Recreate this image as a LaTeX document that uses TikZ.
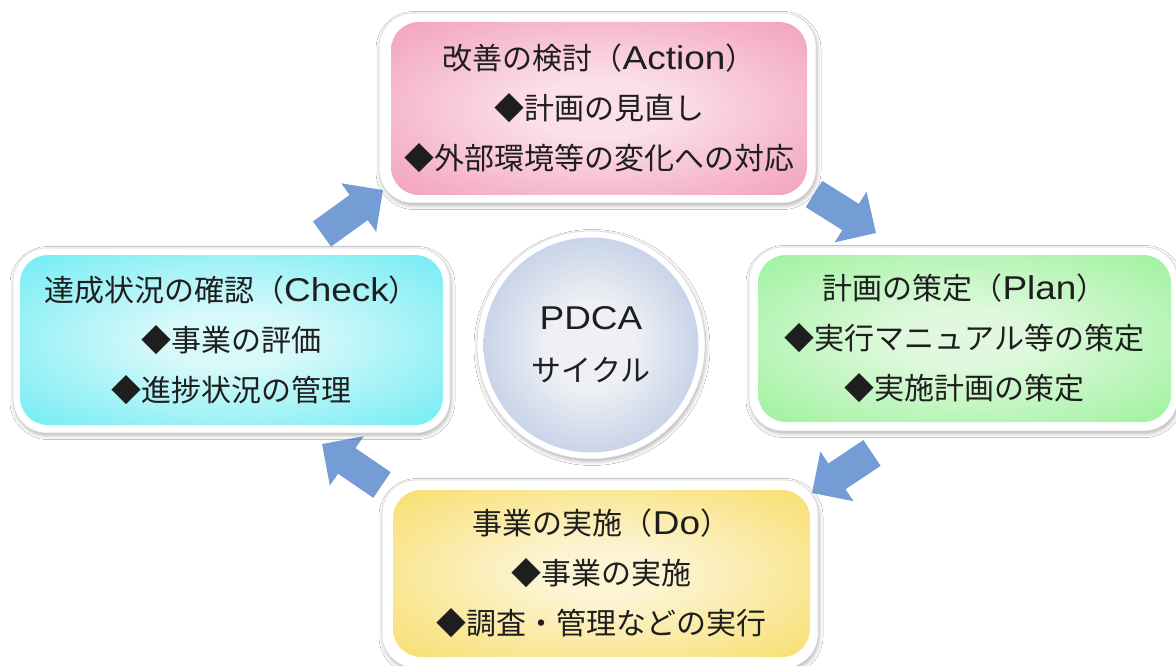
\documentclass[tikz,border=0pt]{standalone}
\usepackage{fontspec}
\setmainfont{Noto Sans CJK JP}
\newfontfamily\lat[Scale=1.1,FakeStretch=1.12]{Liberation Sans}
\usetikzlibrary{arrows.meta,shadows.blur}

\definecolor{pinkOut}{HTML}{EE7FA7}
\definecolor{pinkIn}{HTML}{FBE0EA}
\definecolor{cyanOut}{HTML}{3CE6F0}
\definecolor{cyanIn}{HTML}{D8F9FA}
\definecolor{greenOut}{HTML}{7CEE7C}
\definecolor{greenIn}{HTML}{E0F9DE}
\definecolor{yellowOut}{HTML}{F7D33A}
\definecolor{yellowIn}{HTML}{FCF4D2}
\definecolor{blueOut}{HTML}{8AA6D5}
\definecolor{blueIn}{HTML}{EEF0F4}
\definecolor{arrowBlue}{HTML}{749CD5}
\definecolor{textCol}{HTML}{1E1E1E}

\pgfdeclareradialshading{pinkglow}{\pgfpointorigin}{color(0bp)=(pinkIn); color(8bp)=(pinkIn); color(50bp)=(pinkOut)}
\pgfdeclareradialshading{cyanglow}{\pgfpointorigin}{color(0bp)=(cyanIn); color(8bp)=(cyanIn); color(50bp)=(cyanOut)}
\pgfdeclareradialshading{greenglow}{\pgfpointorigin}{color(0bp)=(greenIn); color(8bp)=(greenIn); color(50bp)=(greenOut)}
\pgfdeclareradialshading{yellowglow}{\pgfpointorigin}{color(0bp)=(yellowIn); color(8bp)=(yellowIn); color(50bp)=(yellowOut)}
\pgfdeclareradialshading{blueglow}{\pgfpointorigin}{color(0bp)=(blueIn); color(10bp)=(blueIn); color(50bp)=(blueOut)}

\tikzset{
  outerbox/.style={draw=black!15, line width=0.6pt, fill=white, rounded corners=34pt,
    inner sep=0pt, blur shadow={shadow xshift=1pt, shadow yshift=-2.5pt, shadow blur radius=4pt, shadow opacity=30}},
  innerbox/.style={rounded corners=28pt, inner sep=0pt, align=center, text=textCol,
    font=\fontsize{30}{50}\selectfont},
  cyclearrow/.style={draw=arrowBlue, line width=31pt,
    -{Triangle[length=30pt,width=58pt]}, arrowBlue},
}

\begin{document}
\begin{tikzpicture}[x=1pt,y=-1pt]
\useasboundingbox (0,0) rectangle (1176,666);
\fill[white] (0,0) rectangle (1176,666);

% arrows (behind boxes)
\coordinate (a1s) at (322,234); \coordinate (a1e) at (383,190);
\coordinate (a2s) at (814,194); \coordinate (a2e) at (876,233);
\coordinate (a3s) at (872,453); \coordinate (a3e) at (812,493);
\coordinate (a4s) at (382,485); \coordinate (a4e) at (322,444);
\draw[cyclearrow] (a1s) -- (a1e);
\draw[cyclearrow] (a2s) -- (a2e);
\draw[cyclearrow] (a3s) -- (a3e);
\draw[cyclearrow] (a4s) -- (a4e);

% Action
\node[outerbox, minimum width=437pt, minimum height=190pt] (actO) at (597.5,108) {};
\node[innerbox, shading=pinkglow, minimum width=416pt, minimum height=173pt] (act) at (599,108.5)
  {改善の検討（{\lat Action}）\\◆計画の見直し\\◆外部環境等の変化への対応};

% Check
\node[outerbox, minimum width=437pt, minimum height=185pt] (chkO) at (231.5,340.5) {};
\node[innerbox, shading=cyanglow, minimum width=423pt, minimum height=170pt] (chk) at (231.5,340)
  {達成状況の確認（{\lat Check}）\\◆事業の評価\\◆進捗状況の管理};

% Plan
\node[outerbox, minimum width=429pt, minimum height=184pt] (plnO) at (963.5,339) {};
\node[innerbox, shading=greenglow, minimum width=413pt, minimum height=167pt] (pln) at (964.5,338.5)
  {計画の策定（{\lat Plan}）\\◆実行マニュアル等の策定\\◆実施計画の策定};

% Do
\node[outerbox, minimum width=436pt, minimum height=188pt] (doO) at (600,574) {};
\node[innerbox, shading=yellowglow, minimum width=417pt, minimum height=167pt] (do) at (601.5,573.5)
  {事業の実施（{\lat Do}）\\◆事業の実施\\◆調査・管理などの実行};

% centre circle
\node[circle, draw=black!15, line width=0.6pt, fill=white, minimum size=228pt, inner sep=0pt,
  blur shadow={shadow xshift=1pt, shadow yshift=-2.5pt, shadow blur radius=4pt, shadow opacity=30}] (cycO) at (591,345) {};
\node[circle, shading=blueglow, minimum size=215pt, inner sep=0pt, align=center, text=textCol,
  font=\fontsize{30}{52}\selectfont] (cyc) at (591,345) {{\lat PDCA}\\サイクル};
\end{tikzpicture}
\end{document}
